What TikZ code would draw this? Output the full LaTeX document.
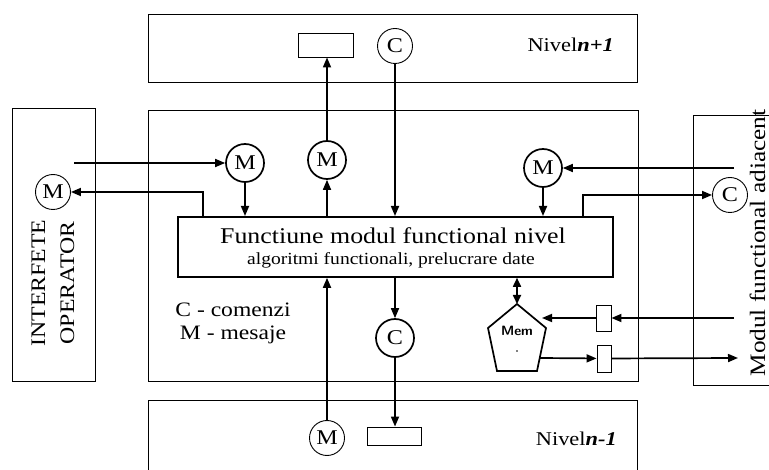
\documentclass[tikz,border=0pt]{standalone}
\usepackage{fontspec}
\setmainfont{Liberation Serif}[FakeStretch=1.15]
\usetikzlibrary{arrows.meta}
\begin{document}
\begin{tikzpicture}[x=1pt,y=-1pt,
  frame/.style={draw, line width=0.9pt, inner sep=0pt, anchor=north west},
  funcbox/.style={draw, line width=1.8pt, inner sep=0pt, anchor=north west},
  thickc/.style={draw, circle, line width=1.7pt, minimum size=38pt, inner sep=0pt, font=\fontsize{21}{22}\selectfont},
  thinc/.style={draw, circle, line width=0.9pt, minimum size=35pt, inner sep=0pt, font=\fontsize{21}{22}\selectfont},
  smallbox/.style={draw, line width=0.9pt, inner sep=0pt},
  arr/.style={-{Triangle[length=10pt,width=8pt]}, line width=1.7pt},
  darr/.style={{Triangle[length=9pt,width=8pt]}-{Triangle[length=9pt,width=8pt]}, line width=1.7pt},
  lbl/.style={inner sep=0pt}
]
\useasboundingbox (0,0) rectangle (769,470);
\fill[white] (0,0) rectangle (769,470);

% frames
\node[frame, minimum width=489pt, minimum height=68pt] (lvlup) at (148,14) {};
\node[frame, minimum width=490pt, minimum height=271pt] (mid) at (148,110) {};
\node[frame, minimum width=489pt, minimum height=80pt] (lvldn) at (148,400) {};
\node[frame, minimum width=83pt, minimum height=273pt] (opbox) at (12,108) {};
\node[frame, minimum width=90pt, minimum height=270pt] (adj) at (693,115) {};

% function box
\node[funcbox, minimum width=435pt, minimum height=60pt] (func) at (177,216) {};
\node[lbl, font=\fontsize{22.5}{24}\selectfont] (f1) at (393,236) {Functiune modul functional nivel};
\node[lbl, font=\fontsize{17}{19}\selectfont] (f2) at (391,260) {algoritmi functionali, prelucrare date};

% labels
\node[lbl, anchor=east, font=\fontsize{19.5}{21}\selectfont] (nup) at (614,45) {Nivel\textbf{\textit{n+1}}};
\node[lbl, anchor=east, font=\fontsize{19.5}{21}\selectfont] (ndn) at (617,439) {Nivel\textbf{\textit{n-1}}};
\node[lbl, font=\fontsize{20.5}{22}\selectfont] (legc) at (233,310) {C - comenzi};
\node[lbl, font=\fontsize{20.5}{22}\selectfont] (legm) at (233,335) {M - mesaje};
\node[lbl, rotate=90, align=center, font=\fontsize{20.7}{29}\selectfont] (optext) at (53,283) {INTERFETE\\OPERATOR};
\node[lbl, rotate=90, anchor=base, font=\fontsize{22}{24}\selectfont] (adjtext) at (765,243) {Modul functional adiacent};

% circles
\node[thickc] (mL) at (245,163) {M};
\node[thickc] (mT) at (327,160) {M};
\node[thickc] (mR) at (543,168) {M};
\node[thickc] (cB) at (395,338) {C};
\node[thinc] (cT) at (395,46) {C};
\node[thinc] (opM) at (53,192) {M};
\node[thinc] (cR) at (730,195) {C};
\node[thinc] (mB) at (327,438) {M};

% small boxes
\node[smallbox, minimum width=55pt, minimum height=24pt] (rT) at (325.5,45) {};
\node[smallbox, minimum width=54pt, minimum height=18pt] (rB) at (394,436) {};
\node[smallbox, minimum width=15pt, minimum height=26pt] (rU) at (603.5,318) {};
\node[smallbox, minimum width=14pt, minimum height=27pt] (rD) at (604,358.5) {};

% memory pentagon
\coordinate (memtop) at (517,304);
\draw[line width=1.7pt, line join=miter] (memtop) -- (546,328) -- (537,371) -- (497,371) -- (488,328) -- cycle;
\node[lbl, font=\sffamily\bfseries\fontsize{13.5}{14}\selectfont] (memlbl) at (517,331) {Mem};
\fill (517,351) circle (0.8pt);
\coordinate (memU) at (542,318);
\coordinate (memD) at (540,358);

% free ends
\coordinate (inL) at (74,163);
\coordinate (rL) at (203,216);
\coordinate (oR) at (583,216);
\coordinate (inR) at (734,168);
\coordinate (inU) at (734,318);
\coordinate (outD) at (738,358);

% connectors
\draw[arr] (inL) -- (mL);
\draw[arr] (mL) -- (mL |- func.north);
\draw[arr] (rL) |- (opM);
\draw[arr] (mT |- func.north) -- (mT);
\draw[arr] (mT) -- (mT |- rT.south);
\draw[arr] (cT) -- (cT |- func.north);
\draw[arr] (inR) -- (mR);
\draw[arr] (mR) -- (mR |- func.north);
\draw[arr] (oR) |- (cR);
\draw[darr] (memtop |- func.south) -- (memtop);
\draw[arr] (cB |- func.south) -- (cB);
\draw[arr] (cB) -- (cB |- rB.north);
\draw[arr] (mB) -- (mB |- func.south);
\draw[arr] (inU) -- (rU);
\draw[arr] (rU) -- (memU);
\draw[arr] (memD) -- (rD);
\draw[arr] (rD) -- (outD);
\end{tikzpicture}
\end{document}
